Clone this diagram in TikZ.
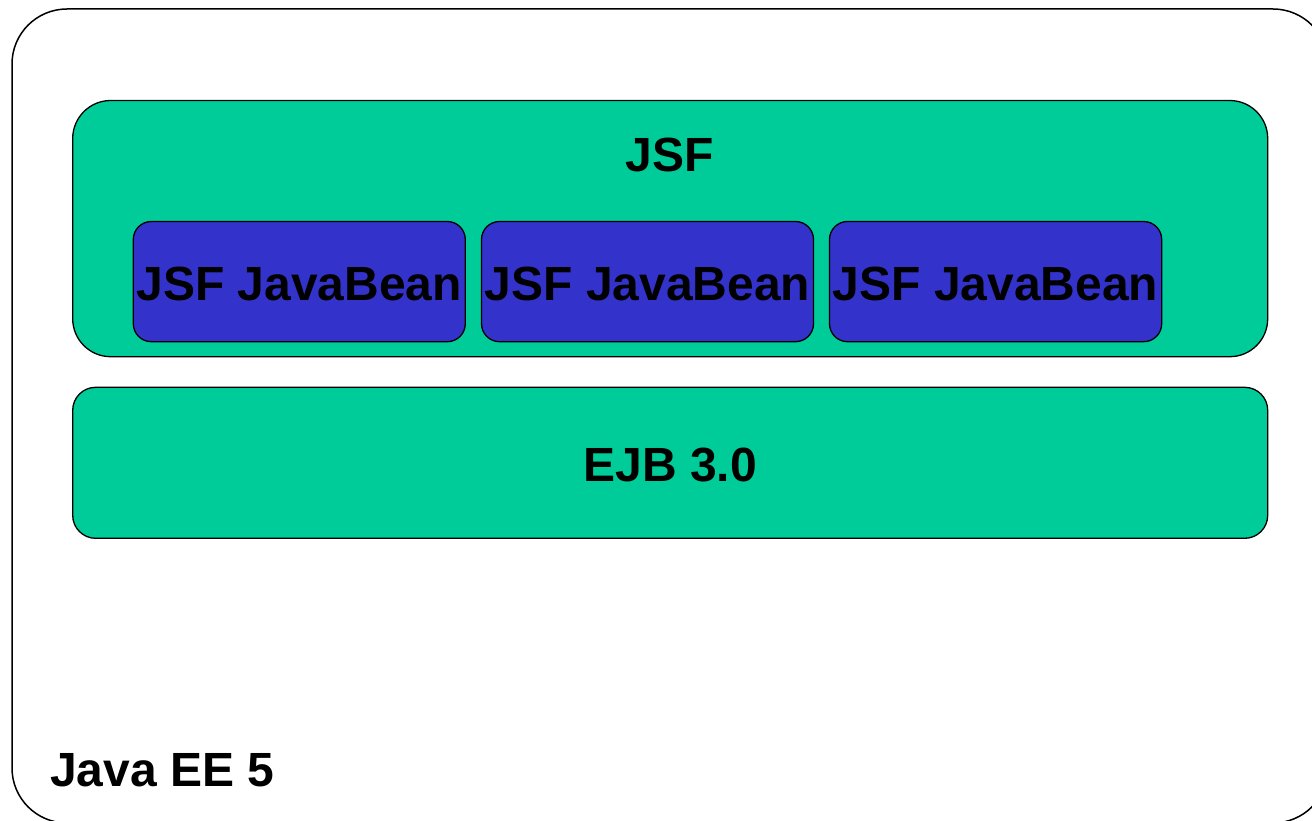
\documentclass[tikz,border=0pt]{standalone}
\usepackage{fontspec}
\setmainfont{Liberation Sans}
\definecolor{layergreen}{RGB}{0,204,153}
\definecolor{beanblue}{RGB}{51,51,204}
\tikzset{
  outerbox/.style={draw=black, line width=1.5pt, fill=white},
  layerbox/.style={draw=black, line width=1.3pt, fill=layergreen},
  beanbox/.style={draw=black, line width=1.3pt, fill=beanblue},
  lbl/.style={font=\fontsize{48}{50}\selectfont\bfseries, text=black, inner sep=0pt}
}
\begin{document}
\begin{tikzpicture}[x=1pt, y=-1pt]
  \useasboundingbox (0,0) rectangle (1312,821);
  \begin{scope}
    \clip (0,0) rectangle (1312,821);
    % platform container, running past the page edge on the right and bottom
    \draw[outerbox, rounded corners=55pt] (12,9) rectangle (1328,823);
  \end{scope}
  \node[lbl, anchor=west] (javaee) at (50,770.5) {Java EE 5};

  % web tier
  \draw[layerbox, rounded corners=38pt] (72.7,100.5) rectangle (1267.7,356.7);
  \node[lbl] (jsf) at (670,154.5) {JSF};

  % managed beans
  \draw[beanbox, rounded corners=18pt] (133.3,221.5) rectangle (465.3,341.7);
  \draw[beanbox, rounded corners=18pt] (481.5,221.5) rectangle (813.5,341.7);
  \draw[beanbox, rounded corners=18pt] (829.5,221.5) rectangle (1161.7,341.7);
  \node[lbl] (bean1) at (299.3,283.5) {JSF JavaBean};
  \node[lbl] (bean2) at (647.5,283.5) {JSF JavaBean};
  \node[lbl] (bean3) at (995.6,283.5) {JSF JavaBean};

  % business tier
  \draw[layerbox, rounded corners=23pt] (72.7,387.3) rectangle (1267.7,538.3);
  \node[lbl] (ejb) at (670.2,465) {EJB 3.0};
\end{tikzpicture}
\end{document}
